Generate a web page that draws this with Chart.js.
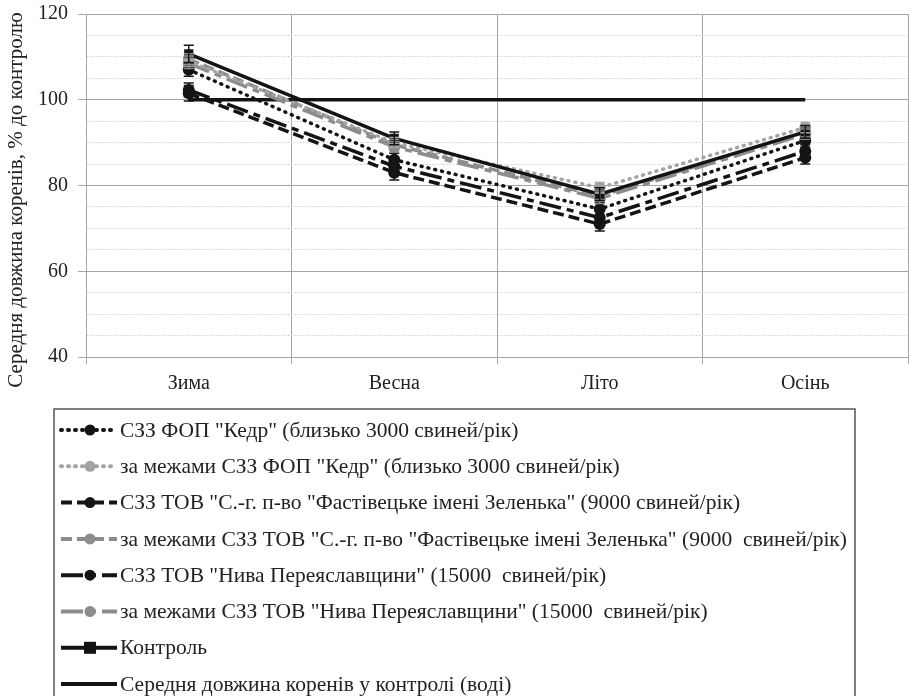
<!DOCTYPE html>
<html>
<head>
<meta charset="utf-8">
<script src="https://cdn.jsdelivr.net/npm/chart.js@4.4.1/dist/chart.umd.min.js"></script>
<style>
  html, body { margin: 0; padding: 0; background: #fff; }
  #wrap { width: 909px; height: 696px; }
</style>
</head>
<body>
<div id="wrap"><canvas id="c" width="909" height="696"></canvas></div>
<script>
// ── Дані ───────────────────────────────────────────────────────────
const seasons     = ['Зима', 'Весна', 'Літо', 'Осінь'];
const kedrIn      = [107.0, 86.0, 74.5, 90.5];
const kedrOut     = [109.0, 90.0, 79.5, 93.5];
const fastivIn    = [101.5, 83.0, 71.0, 86.5];
const fastivOut   = [109.5, 89.5, 77.5, 92.5];
const nivaIn      = [102.3, 84.5, 72.5, 88.0];
const nivaOut     = [108.5, 89.0, 77.0, 92.0];
const control     = [110.7, 91.0, 78.0, 92.5];
const controlMean = [100, 100, 100, 100];

// похибки (±)
const kedrInErr    = [1.5, 1.5, 1.5, 1.5];
const fastivInErr  = [1.8, 1.7, 1.6, 1.5];
const nivaInErr    = [1.6, 1.6, 1.5, 1.5];
const outErr       = [1.2, 1.2, 1.2, 1.2];
const controlErr   = [2.0, 1.5, 1.5, 1.5];

const yTitle = 'Середня довжина коренів, % до контролю';
const SERIF  = "'Liberation Serif', 'DejaVu Serif', serif";
const BLACK  = '#141414';
const GRAY   = '#8c8c8c';
const LGRAY  = '#a3a3a3';
const AXIS   = '#a6a6a6';

function series(label, data, color, dash, extra = {}) {
  return Object.assign({
    label, data,
    borderColor: color,
    backgroundColor: color,
    pointBackgroundColor: color,
    pointBorderWidth: 0,
    pointRadius: 6,
    borderWidth: 3.5,
    borderDash: dash,
    borderCapStyle: 'butt',
    tension: 0,
    fill: false,
    order: 1
  }, extra);
}

const datasets = [
  series('СЗЗ ФОП "Кедр" (близько 3000 свиней/рік)', kedrIn, BLACK, [1, 6], { borderCapStyle: 'round', errors: kedrInErr }),
  series('за межами СЗЗ ФОП "Кедр" (близько 3000 свиней/рік)', kedrOut, LGRAY, [1, 6], { borderCapStyle: 'round', errors: outErr }),
  series('СЗЗ ТОВ "С.-г. п-во "Фастівецьке імені Зеленька" (9000 свиней/рік)', fastivIn, BLACK, [11, 5], { errors: fastivInErr }),
  series('за межами СЗЗ ТОВ "С.-г. п-во "Фастівецьке імені Зеленька" (9000  свиней/рік)', fastivOut, GRAY, [11, 5], { errors: outErr }),
  series('СЗЗ ТОВ "Нива Переяславщини" (15000  свиней/рік)', nivaIn, BLACK, [22, 6, 7, 6], { errors: nivaInErr }),
  series('за межами СЗЗ ТОВ "Нива Переяславщини" (15000  свиней/рік)', nivaOut, GRAY, [22, 6, 7, 6], { errors: outErr }),
  series('Контроль', control, BLACK, [], { pointStyle: 'rect', pointRadius: 6.5, order: 0, errors: controlErr }),
  series('Середня довжина коренів у контролі (воді)', controlMean, BLACK, [], { pointRadius: 0, order: 2 })
];

// ── Планки похибок ─────────────────────────────────────────────────
const errorBars = {
  id: 'errorBars',
  afterDatasetsDraw(chart) {
    const { ctx, scales: { y } } = chart;
    chart.data.datasets.forEach((ds, di) => {
      if (!ds.errors) return;
      const meta = chart.getDatasetMeta(di);
      ctx.save();
      ctx.strokeStyle = ds.borderColor;
      ctx.lineWidth = 1.5;
      ctx.setLineDash([]);
      meta.data.forEach((pt, i) => {
        const e = ds.errors[i];
        const top = y.getPixelForValue(ds.data[i] + e);
        const bot = y.getPixelForValue(ds.data[i] - e);
        ctx.beginPath();
        ctx.moveTo(pt.x, top); ctx.lineTo(pt.x, bot);
        ctx.moveTo(pt.x - 5, top); ctx.lineTo(pt.x + 5, top);
        ctx.moveTo(pt.x - 5, bot); ctx.lineTo(pt.x + 5, bot);
        ctx.stroke();
      });
      ctx.restore();
    });
  }
};

// ── Легенда в рамці під графіком + підпис осі Y ────────────────────
const boxLegend = {
  id: 'boxLegend',
  afterDraw(chart) {
    const { ctx } = chart;
    const left = 54, top = 409, right = 855, rowY0 = 430, step = 36.3;
    ctx.save();
    ctx.strokeStyle = '#555';
    ctx.lineWidth = 1.5;
    ctx.strokeRect(left, top, right - left, 320);

    chart.data.datasets.forEach((ds, i) => {
      const yy = rowY0 + step * i;
      ctx.save();
      ctx.strokeStyle = ds.borderColor;
      ctx.lineWidth = ds.borderWidth + 0.5;
      ctx.lineCap = ds.borderCapStyle;
      ctx.setLineDash(ds.borderDash);
      ctx.beginPath();
      ctx.moveTo(61, yy); ctx.lineTo(117, yy);
      ctx.stroke();
      ctx.setLineDash([]);
      if (ds.pointRadius > 0) {
        ctx.fillStyle = ds.pointBackgroundColor;
        ctx.beginPath();
        if (ds.pointStyle === 'rect') ctx.rect(84, yy - 6, 12, 12);
        else ctx.arc(90, yy, 5.5, 0, Math.PI * 2);
        ctx.fill();
      }
      ctx.restore();

      ctx.fillStyle = '#222';
      ctx.font = '21.5px ' + SERIF;
      ctx.textBaseline = 'middle';
      ctx.fillText(ds.label, 120, yy + 1);
    });

    // підпис осі Y (зсунутий трохи донизу, як в оригіналі)
    ctx.translate(16, 200);
    ctx.rotate(-Math.PI / 2);
    ctx.fillStyle = '#222';
    ctx.font = '21px ' + SERIF;
    ctx.textAlign = 'center';
    ctx.textBaseline = 'middle';
    ctx.fillText(yTitle, 0, 0);
    ctx.restore();
  }
};

new Chart(document.getElementById('c'), {
  type: 'line',
  data: { labels: seasons, datasets },
  plugins: [errorBars, boxLegend],
  options: {
    responsive: false,
    animation: false,
    layout: { autoPadding: false, padding: { top: 14, right: 1, bottom: 299, left: 0 } },
    plugins: { legend: { display: false }, tooltip: { enabled: false } },
    scales: {
      x: {
        offset: true,
        grid: { offset: true, color: AXIS, tickColor: AXIS, tickLength: 7 },
        border: { color: AXIS },
        ticks: { color: '#222', font: { family: SERIF, size: 20 }, padding: 8 },
        afterFit: s => { s.height = 40; s.paddingLeft = 0; s.paddingRight = 0; }
      },
      y: {
        min: 40,
        max: 120,
        ticks: {
          stepSize: 5,
          autoSkip: false,
          callback: v => (v % 20 === 0 ? v : ''),
          color: '#222',
          font: { family: SERIF, size: 20 },
          padding: 10
        },
        grid: {
          color: c => (c.tick && c.tick.value % 20 !== 0 ? '#d2d2d2' : AXIS),
          tickColor: c => (c.tick && c.tick.value % 20 !== 0 ? 'rgba(0,0,0,0)' : AXIS),
          tickLength: 8
        },
        border: {
          color: AXIS,
          dash: c => (c.tick && c.tick.value % 20 !== 0 ? [1.5, 1.5] : [])
        },
        afterFit: s => { s.width = 86; s.paddingTop = 0; s.paddingBottom = 0; }
      }
    }
  }
});
</script>
</body>
</html>
